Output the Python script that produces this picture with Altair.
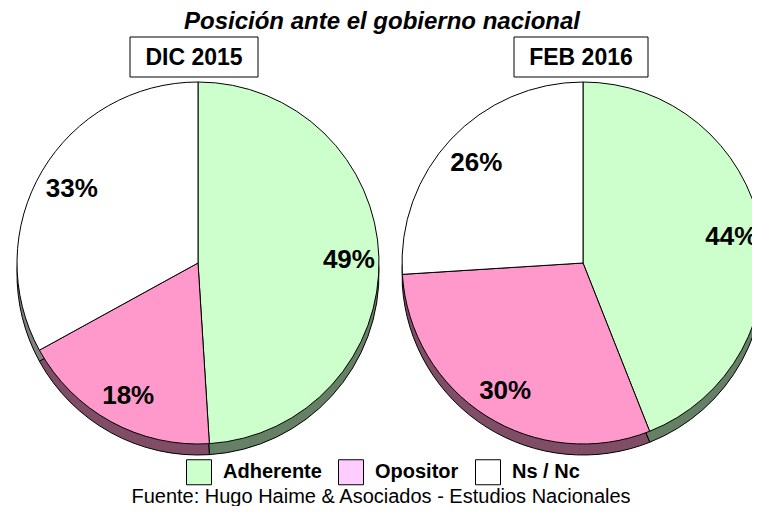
import altair as alt
import pandas as pd

categories = ["Adherente", "Opositor", "Ns / Nc"]
dic2015 = [49, 18, 33]
feb2016 = [44, 30, 26]
labels_dic = ["49%", "18%", "33%"]
labels_feb = ["44%", "30%", "26%"]
panel_titles = ["DIC 2015", "FEB 2016"]
title_text = "Posición ante el gobierno nacional"
source_text = "Fuente: Hugo Haime & Asociados - Estudios Nacionales"

top_colors = ["#CCFFCC", "#FF99CC", "#FFFFFF"]
side_colors = ["#668066", "#804D66", "#808080"]
legend_colors = ["#CCFFCC", "#FFCCFF", "#FFFFFF"]

FONT = "Arial, Liberation Sans, sans-serif"
LABEL_FONT = "Liberation Sans Narrow, Arial Narrow, Liberation Sans, Arial"

W, H = 744, 498
R = 181
DEPTH = 11
CY = 255
centers = [190, 575]


def pie_df(values, labels):
    return pd.DataFrame({"cat": categories, "value": values,
                         "label": labels, "idx": list(range(len(values)))})


def pie_layers(df, cx):
    base = alt.Chart(df).encode(
        theta=alt.Theta("value:Q", stack=True),
        order=alt.Order("idx:Q"),
    )
    side = base.mark_arc(radius=R, stroke="black", strokeWidth=1).encode(
        x=alt.value(cx), y=alt.value(CY + DEPTH),
        fill=alt.Fill("cat:N", scale=alt.Scale(domain=categories, range=side_colors), legend=None),
    )
    top = base.mark_arc(radius=R, stroke="black", strokeWidth=1).encode(
        x=alt.value(cx), y=alt.value(CY),
        fill=alt.Fill("cat:N", scale=alt.Scale(domain=categories, range=top_colors), legend=None),
    )
    text = base.mark_text(radius=149, font=LABEL_FONT, fontSize=26, fontWeight="bold",
                          color="black").encode(
        x=alt.value(cx + 2), y=alt.value(CY + 2), text="label:N",
    )
    return [side, top, text]


layers = []
layers += pie_layers(pie_df(dic2015, labels_dic), centers[0])
layers += pie_layers(pie_df(feb2016, labels_feb), centers[1])

# panel title boxes
box_specs = [(122, 250), (506, 640)]
for (x1, x2), t in zip(box_specs, panel_titles):
    d = pd.DataFrame({"t": [t]})
    layers.append(alt.Chart(d).mark_rect(fill="white", stroke="black", strokeWidth=1).encode(
        x=alt.value(x1), x2=alt.value(x2), y=alt.value(29), y2=alt.value(69)))
    layers.append(alt.Chart(d).mark_text(font=FONT, fontSize=23, fontWeight="bold",
                                         color="black", baseline="middle", align="center").encode(
        x=alt.value((x1 + x2) / 2), y=alt.value(50), text="t:N"))

# title
layers.append(alt.Chart(pd.DataFrame({"t": [title_text]})).mark_text(
    font=FONT, fontSize=24, fontWeight="bold", fontStyle="italic", color="black",
    baseline="alphabetic", align="center").encode(x=alt.value(W / 2 + 2), y=alt.value(21), text="t:N"))

# source
layers.append(alt.Chart(pd.DataFrame({"t": [source_text]})).mark_text(
    font=FONT, fontSize=20, color="black", baseline="alphabetic", align="center").encode(
    x=alt.value(W / 2 + 1), y=alt.value(495), text="t:N"))

# legend
leg_df = pd.DataFrame({"cat": categories})
layers.append(alt.Chart(leg_df).mark_square(filled=True, opacity=1, stroke="black",
                                            strokeWidth=1, size=10).encode(
    x=alt.value(-300), y=alt.value(-300),
    color=alt.Color("cat:N", scale=alt.Scale(domain=categories, range=legend_colors),
                    legend=alt.Legend(orient="none", legendX=178, legendY=451,
                                      direction="horizontal", title=None,
                                      symbolType="square", symbolSize=625,
                                      symbolStrokeColor="black", symbolStrokeWidth=1,
                                      symbolOpacity=1,
                                      labelFont=FONT, labelFontSize=20, labelFontWeight="bold",
                                      labelColor="black", labelOffset=11, columnPadding=14,
                                      padding=0)),
))

chart = alt.layer(*layers).resolve_scale(fill="independent").properties(
    width=W, height=H, padding=0, autosize=alt.AutoSizeParams(type="none"),
).configure_view(stroke=None)

chart.save("out.html", embed_options={"renderer": "svg", "actions": False})
